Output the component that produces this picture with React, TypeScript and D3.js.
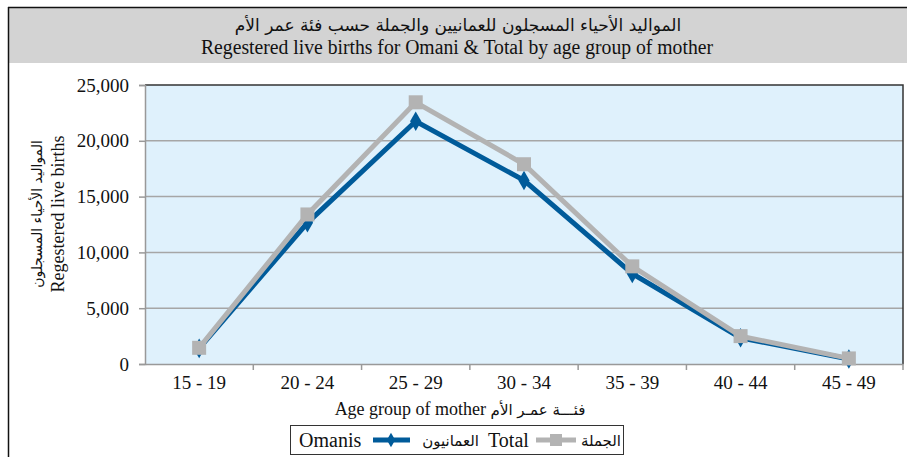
import React, { useEffect, useRef } from 'react';
import * as d3 from 'd3';

// age groups and values
const ageGroups = ['15 - 19', '20 - 24', '25 - 29', '30 - 34', '35 - 39', '40 - 44', '45 - 49'];
const omanis = [1400, 12650, 21750, 16450, 8100, 2350, 450];
const total = [1450, 13400, 23450, 17900, 8750, 2500, 500];
const yTicks = [0, 5000, 10000, 15000, 20000, 25000];

const titleAr = 'المواليد الأحياء المسجلون للعمانيين والجملة حسب فئة عمر الأم';
const titleEn = 'Regestered live births for Omani & Total by age group of mother';

const serif = '"Liberation Serif", "DejaVu Serif", serif';
const arabic = '"DejaVu Sans", sans-serif';

const App = () => {
    const ref = useRef<SVGSVGElement>(null);

    useEffect(() => {
        if (!ref.current) return;
        const svg = d3.select(ref.current);
        svg.selectAll('*').remove();

        const W = 907, H = 457;
        const plot = { left: 145, right: 903, top: 85, bottom: 364 };

        // frame + title band
        svg.append('rect').attr('x', 8).attr('y', 7).attr('width', W - 8).attr('height', 56).attr('fill', '#d3d3d3');
        svg.append('line').attr('x1', 8).attr('x2', W).attr('y1', 7.5).attr('y2', 7.5).attr('stroke', '#111').attr('stroke-width', 1.5);
        svg.append('line').attr('x1', 8.5).attr('x2', 8.5).attr('y1', 7).attr('y2', H).attr('stroke', '#111').attr('stroke-width', 1.5);

        svg.append('text').attr('x', 458).attr('y', 31).attr('text-anchor', 'middle')
            .attr('font-family', arabic).attr('font-size', 17).attr('fill', '#111')
            .attr('direction', 'rtl').text(titleAr);
        svg.append('text').attr('x', 457).attr('y', 54).attr('text-anchor', 'middle')
            .attr('font-family', serif).attr('font-size', 20).attr('fill', '#111')
            .attr('textLength', 512).attr('lengthAdjust', 'spacingAndGlyphs').text(titleEn);

        const x = d3.scaleBand().domain(ageGroups).range([plot.left, plot.right]);
        const y = d3.scaleLinear().domain([0, 25000]).range([plot.bottom, plot.top]);

        // plot background
        svg.append('rect').attr('x', plot.left).attr('y', plot.top)
            .attr('width', plot.right - plot.left).attr('height', plot.bottom - plot.top)
            .attr('fill', '#dff1fc');

        // gridlines
        svg.append('g').selectAll('line').data(yTicks.filter(t => t > 0 && t < 25000)).join('line')
            .attr('x1', plot.left).attr('x2', plot.right)
            .attr('y1', d => y(d)).attr('y2', d => y(d))
            .attr('stroke', '#a6a6a6').attr('stroke-width', 1.5);

        // plot border: dark top/right, grey axes left/bottom
        svg.append('path').attr('d', `M${plot.left},${plot.top}H${plot.right}V${plot.bottom}`)
            .attr('fill', 'none').attr('stroke', '#333').attr('stroke-width', 1.5);

        // y axis
        const yAxis = svg.append('g').attr('transform', `translate(${plot.left},0)`)
            .call(d3.axisLeft(y).tickValues(yTicks).tickSize(6).tickPadding(10).tickFormat(d3.format(',')));
        yAxis.select('.domain').attr('stroke', '#999').attr('stroke-width', 1.5);
        yAxis.selectAll('.tick line').attr('stroke', '#999').attr('stroke-width', 1.5);
        yAxis.selectAll('.tick text').attr('font-family', serif).attr('font-size', 19).attr('fill', '#111');

        // x axis with ticks at band boundaries
        const xAxis = svg.append('g').attr('transform', `translate(0,${plot.bottom})`)
            .call(d3.axisBottom(x).tickSize(0).tickPadding(12));
        xAxis.select('.domain').attr('stroke', '#999').attr('stroke-width', 1.5);
        xAxis.selectAll('.tick text').attr('font-family', serif).attr('font-size', 19).attr('fill', '#111');
        svg.append('g').selectAll('line').data(ageGroups).join('line')
            .attr('x1', (d, i) => plot.left + x.step() * (i + 1)).attr('x2', (d, i) => plot.left + x.step() * (i + 1))
            .attr('y1', plot.bottom).attr('y2', plot.bottom + 6)
            .attr('stroke', '#999').attr('stroke-width', 1.5);

        // axis titles
        svg.append('text').attr('x', 460).attr('y', 415).attr('text-anchor', 'middle')
            .attr('font-family', serif).attr('font-size', 18).attr('fill', '#111')
            .text('Age group of mother  ')
            .append('tspan').attr('font-family', arabic).attr('font-size', 15).text('فئـــة عمـر الأم');

        const yt = svg.append('g').attr('transform', 'translate(0,214) rotate(-90)');
        yt.append('text').attr('x', 0).attr('y', 64).attr('text-anchor', 'middle')
            .attr('font-family', serif).attr('font-size', 18).attr('fill', '#111').text('Regestered live births');
        yt.append('text').attr('x', 0).attr('y', 42).attr('text-anchor', 'middle')
            .attr('font-family', arabic).attr('font-size', 14).attr('fill', '#111')
            .text('المواليد الأحياء المسجلون');

        // series
        const cx = (i: number) => x(ageGroups[i])! + x.bandwidth() / 2;
        const line = d3.line<number>().x((d, i) => cx(i)).y(d => y(d));

        svg.append('path').datum(omanis).attr('d', line)
            .attr('fill', 'none').attr('stroke', '#005b9a').attr('stroke-width', 5).attr('stroke-linejoin', 'miter');
        svg.append('g').selectAll('path').data(omanis).join('path')
            .attr('d', d3.symbol(d3.symbolDiamond, 110))
            .attr('transform', (d, i) => `translate(${cx(i)},${y(d)})`)
            .attr('fill', '#005b9a');

        svg.append('path').datum(total).attr('d', line)
            .attr('fill', 'none').attr('stroke', '#b3b3b3').attr('stroke-width', 5).attr('stroke-linejoin', 'miter');
        svg.append('g').selectAll('rect').data(total).join('rect')
            .attr('x', (d, i) => cx(i) - 7).attr('y', d => y(d) - 7)
            .attr('width', 14).attr('height', 14).attr('fill', '#b3b3b3');

        // legend
        const lg = svg.append('g');
        lg.append('rect').attr('x', 290.5).attr('y', 425.5).attr('width', 333).attr('height', 29)
            .attr('fill', '#fff').attr('stroke', '#333').attr('stroke-width', 1);
        lg.append('text').attr('x', 299).attr('y', 447).attr('font-family', serif).attr('font-size', 20).attr('fill', '#111').text('Omanis');
        lg.append('line').attr('x1', 373).attr('x2', 410).attr('y1', 440).attr('y2', 440).attr('stroke', '#005b9a').attr('stroke-width', 5);
        lg.append('path').attr('d', d3.symbol(d3.symbolDiamond, 60)).attr('transform', 'translate(391,440)').attr('fill', '#005b9a');
        lg.append('text').attr('x', 479).attr('y', 446).attr('text-anchor', 'end')
            .attr('font-family', arabic).attr('font-size', 15).attr('fill', '#111').text('العمانيون');
        lg.append('text').attr('x', 488).attr('y', 447).attr('font-family', serif).attr('font-size', 20).attr('fill', '#111').text('Total');
        lg.append('line').attr('x1', 536).attr('x2', 576).attr('y1', 440).attr('y2', 440).attr('stroke', '#b3b3b3').attr('stroke-width', 5);
        lg.append('rect').attr('x', 550).attr('y', 434).attr('width', 12).attr('height', 12).attr('fill', '#b3b3b3');
        lg.append('text').attr('x', 621).attr('y', 446).attr('text-anchor', 'end')
            .attr('font-family', arabic).attr('font-size', 15).attr('fill', '#111').text('الجملة');
    }, []);

    return (
        <svg ref={ref} width={907} height={457}
            style={{ position: 'absolute', left: 0, top: 0, background: '#fff' }} />
    );
};

export default App;
